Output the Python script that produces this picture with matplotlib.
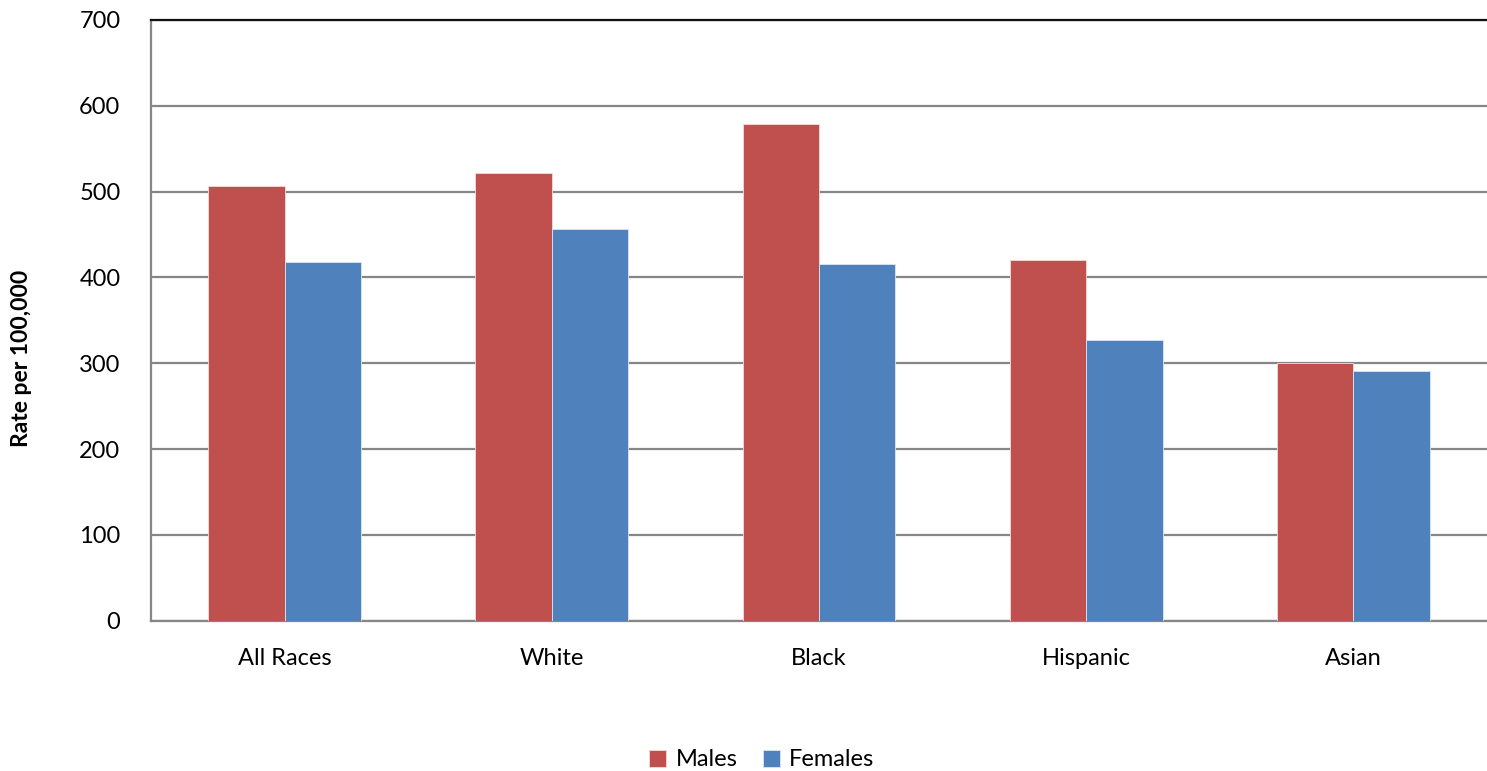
import numpy as np
import matplotlib.pyplot as plt

plt.rcParams['font.family'] = ['Lato', 'DejaVu Sans']

races = ["All Races", "White", "Black", "Hispanic", "Asian"]
males = [507, 522, 579, 420, 300]
females = [418, 456, 416, 327, 291]
y_ticks = [0, 100, 200, 300, 400, 500, 600, 700]

red = "#C0504D"
blue = "#4F81BD"
grid_col = "#868686"

fig = plt.figure(figsize=(14.87, 7.71), dpi=100)
ax = fig.add_axes([151 / 1487, 1 - 620.7 / 771, 1 - 151 / 1487, (620.7 - 20) / 771])

x = np.arange(len(races))
w = 1 / 3.5
ax.bar(x - w / 2, males, w, color=red, edgecolor="#F2DCDB", linewidth=0.6, label="Males", zorder=3)
ax.bar(x + w / 2, females, w, color=blue, edgecolor="#DCE6F2", linewidth=0.6, label="Females", zorder=3)

ax.set_xlim(-0.5, len(races) - 0.5)
ax.set_ylim(0, 700)
ax.set_yticks(y_ticks)
ax.set_xticks(x)
ax.set_xticklabels(races)
ax.tick_params(axis="both", length=0, labelsize=17, colors="black")
ax.tick_params(axis="y", pad=22)
ax.tick_params(axis="x", pad=20)

ax.yaxis.grid(True, color=grid_col, linewidth=1.6, zorder=0)
ax.set_axisbelow(True)
ax.spines["right"].set_visible(False)
ax.spines["top"].set_color("#111111")
ax.spines["top"].set_linewidth(1.6)
for s in ["left", "bottom"]:
    ax.spines[s].set_color(grid_col)
    ax.spines[s].set_linewidth(1.6)

fig.text(22 / 1487, 1 - 358 / 771, "Rate per 100,000", rotation=90, fontsize=16.5,
         fontweight="bold", ha="center", va="center")

fig.legend(loc="center", bbox_to_anchor=(762 / 1487, 1 - 760 / 771), ncol=2, frameon=False,
           fontsize=17, handlelength=0.7, handleheight=0.7, handletextpad=0.4, columnspacing=1.1)

fig.savefig("out.png", dpi=100)
